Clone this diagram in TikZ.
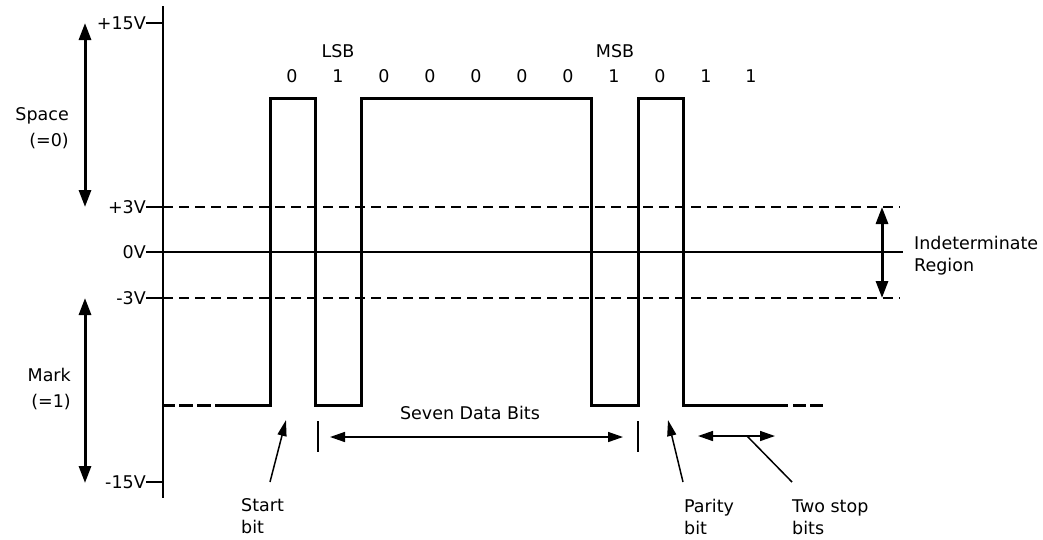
\documentclass[tikz,border=0pt]{standalone}
\usepackage{fontspec}
\setmainfont{DejaVu Sans}
\usetikzlibrary{arrows.meta}
\begin{document}
\begin{tikzpicture}[x=1pt,y=-1pt,
  lbl/.style={inner sep=0pt, font=\fontsize{17.5}{22}\selectfont},
  lbltall/.style={inner sep=0pt, font=\fontsize{17.5}{26}\selectfont},
  wave/.style={line width=3pt, line join=miter},
  axisline/.style={line width=2pt},
  tickline/.style={line width=1.5pt},
  level/.style={line width=1.5pt, dash pattern=on 10pt off 6pt},
  bigarr/.style={line width=3pt, {Triangle[length=17pt,width=12pt]}-{Triangle[length=17pt,width=12pt]}},
  smallarr/.style={line width=1.5pt, {Triangle[length=15pt,width=10pt]}-{Triangle[length=15pt,width=10pt]}},
  pointer/.style={line width=1.5pt, -{Triangle[length=16pt,width=9pt]}},
  leader/.style={line width=1.5pt}
]
\useasboundingbox (0,0) rectangle (1043,539);
\fill[white] (0,0) rectangle (1043,539);

% axis
\coordinate (axtop) at (163,6);
\coordinate (axbot) at (163,498);
\draw[axisline] (axtop) -- (axbot);

% voltage labels and ticks
\node[lbl, anchor=east] (v15) at (146,23) {+15V};
\node[lbl, anchor=east] (v3) at (146,207) {+3V};
\node[lbl, anchor=east] (v0) at (146,252) {0V};
\node[lbl, anchor=east] (vm3) at (146,298) {-3V};
\node[lbl, anchor=east] (vm15) at (146,482) {-15V};
\draw[tickline] (v15.east) -- (163,23);
\draw[tickline] (v3.east) -- (163,207);
\draw[tickline] (vm3.east) -- (163,298);
\draw[tickline] (vm15.east) -- (163,482);
\draw[tickline] (v0.east) -- (903,252);

% threshold dashed lines
\draw[level] (163,207) -- (900,207);
\draw[level] (163,298) -- (900,298);

% space / mark arrows
\coordinate (sptop) at (85,23);
\coordinate (spbot) at (85,207);
\coordinate (mktop) at (85,298);
\coordinate (mkbot) at (85,483);
\draw[bigarr] (sptop) -- (spbot);
\draw[bigarr] (mktop) -- (mkbot);
\node[lbltall, align=right, anchor=east] (space) at (69,128) {Space\\(=0)};
\node[lbltall, align=right, anchor=east] (mark) at (71,389) {Mark\\(=1)};

% indeterminate region
\coordinate (indtop) at (882,207);
\coordinate (indbot) at (882,298);
\draw[bigarr] (indtop) -- (indbot);
\node[lbl, align=left, anchor=west] (ind) at (914,256) {Indeterminate\\Region};

% waveform
\draw[wave] (163,405) -- (175,405);
\draw[wave] (179,405) -- (193,405);
\draw[wave] (197,405) -- (211,405);
\draw[wave] (215,405) -- (270,405) -- (270,98) -- (315,98) -- (315,405)
  -- (361,405) -- (361,98) -- (591,98) -- (591,405) -- (638,405)
  -- (638,98) -- (683,98) -- (683,405) -- (788,405);
\draw[wave] (793,405) -- (806,405);
\draw[wave] (810,405) -- (823,405);

% bit labels
\foreach \x/\b [count=\i] in {292/0,338/1,384/0,430/0,476/0,522/0,568/0,614/1,660/0,706/1,751/1}
  \node[lbl] (bit\i) at (\x,76) {\b};
\node[lbl] (lsb) at (338,51) {LSB};
\node[lbl] (msb) at (615,51) {MSB};

% data bits span
\coordinate (tk1a) at (318,421);
\coordinate (tk1b) at (318,452);
\coordinate (tk2a) at (638,421);
\coordinate (tk2b) at (638,452);
\draw[tickline] (tk1a) -- (tk1b);
\draw[tickline] (tk2a) -- (tk2b);
\coordinate (dl) at (330,437);
\coordinate (dr) at (623,437);
\draw[smallarr] (dl) -- (dr);
\node[lbl] (seven) at (470,413) {Seven Data Bits};

% start bit
\node[lbl, align=left, anchor=west] (start) at (241,516) {Start\\bit};
\coordinate (stfoot) at (270,482);
\coordinate (sttip) at (286,420);
\draw[pointer] (stfoot) -- (sttip);

% parity bit
\node[lbl, align=left, anchor=west] (parity) at (684,517) {Parity\\bit};
\coordinate (pafoot) at (683,482);
\coordinate (patip) at (668,420);
\draw[pointer] (pafoot) -- (patip);

% stop bits
\node[lbl, align=left, anchor=west] (stop) at (792,517) {Two stop\\bits};
\coordinate (sl) at (698,436);
\coordinate (sr) at (775,436);
\draw[smallarr] (sl) -- (sr);
\coordinate (sfoot) at (792,482);
\coordinate (smid) at (747,436);
\draw[leader] (sfoot) -- (smid);
\end{tikzpicture}
\end{document}
